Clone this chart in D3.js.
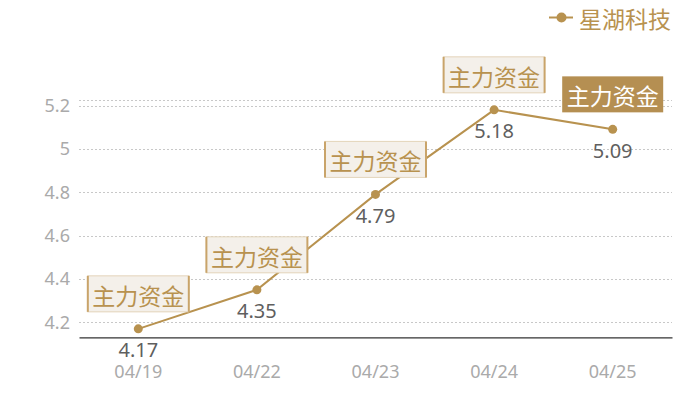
<!DOCTYPE html>
<html><head><meta charset="utf-8">
<script src="https://cdn.jsdelivr.net/npm/d3@7/dist/d3.min.js"></script>
<style>body{margin:0;background:#fff;} svg{display:block;}</style>
</head><body>
<svg id="c" width="700" height="400"></svg>
<script>
const categories = ["04/19","04/22","04/23","04/24","04/25"];
const values = [4.17, 4.35, 4.79, 5.18, 5.09];
const yTicks = [4.2, 4.4, 4.6, 4.8, 5, 5.2];
const seriesName = "星湖科技";
const markLabel = "主力资金";
const highlightIndex = 4;

const gold = "#b8924f";
const svg = d3.select("#c");
const m = {l:79, r:672, t:100.3, b:337.3};
const x = d3.scaleBand().domain(categories).range([m.l, m.r]);
const y = d3.scaleLinear().domain([4.131, 5.224]).range([m.b, m.t]);
const cx = d => x(d) + x.bandwidth()/2;
const font = "'Noto Sans','Noto Sans CJK SC',sans-serif";

// grid
const grid = svg.append("g");
[...yTicks, y.domain()[1]].forEach(v => {
  grid.append("line").attr("x1", m.l).attr("x2", m.r)
    .attr("y1", Math.round(y(v))+0.5).attr("y2", Math.round(y(v))+0.5)
    .attr("stroke", "#c8c8c8").attr("stroke-width", 1).attr("stroke-dasharray", "2,2");
});

// y axis labels
const yAxis = d3.axisLeft(y).tickValues(yTicks).tickSize(0).tickPadding(9).tickFormat(d3.format("~g"));
const ya = svg.append("g").attr("transform", `translate(${m.l},0)`).call(yAxis);
ya.select(".domain").remove();
ya.selectAll("text").attr("fill", "#aaaaaa").style("font-size", "18px").style("font-family", font);

// x axis
const xAxis = d3.axisBottom(x).tickSize(0).tickPadding(28);
const xa = svg.append("g").attr("transform", `translate(0,${m.b})`).call(xAxis);
xa.select(".domain").attr("stroke", "#333").attr("stroke-width", 1.2);
xa.selectAll("text").attr("fill", "#aaaaaa").style("font-size", "18px").style("font-family", font);

// line
const line = d3.line().x((d,i) => cx(categories[i])).y(d => y(d));
svg.append("path").datum(values).attr("d", line).attr("fill", "none")
  .attr("stroke", gold).attr("stroke-width", 2);
svg.selectAll("circle.pt").data(values).enter().append("circle")
  .attr("cx", (d,i) => cx(categories[i])).attr("cy", d => y(d)).attr("r", 4.5).attr("fill", gold);

// value labels
svg.selectAll("text.val").data(values).enter().append("text")
  .attr("x", (d,i) => cx(categories[i])).attr("y", d => y(d) + 21)
  .attr("text-anchor", "middle").attr("dominant-baseline", "central")
  .attr("fill", "#5f5f5f").style("font-size", "20px").style("font-family", font)
  .text(d => d);

// markers
const bw = 101, bh = 36;
values.forEach((v,i) => {
  const px = cx(categories[i]), py = y(v);
  const bx = px - bw/2, by = py - 17 - bh;
  const g = svg.append("g");
  const hl = i === highlightIndex;
  g.append("rect").attr("x", bx).attr("y", by).attr("width", bw).attr("height", bh)
    .attr("fill", hl ? "#b58f52" : "#f4f0ea")
    .attr("stroke", hl ? "none" : "#e3d4ba").attr("stroke-width", 1);
  if (!hl) {
    [bx, bx+bw].forEach(lx => g.append("line").attr("x1", lx).attr("x2", lx)
      .attr("y1", by).attr("y2", by+bh).attr("stroke", "#c9a46a").attr("stroke-width", 2));
  }
  g.append("text").attr("x", px).attr("y", by + bh/2 + 1)
    .attr("text-anchor", "middle").attr("dominant-baseline", "central")
    .attr("fill", hl ? "#ffffff" : gold).style("font-size", "23px")
    .style("font-family", "'Noto Sans CJK SC',sans-serif").text(markLabel);
});

// legend
const lg = svg.append("g");
lg.append("line").attr("x1", 549).attr("x2", 573).attr("y1", 17.5).attr("y2", 17.5)
  .attr("stroke", gold).attr("stroke-width", 2);
lg.append("circle").attr("cx", 561.5).attr("cy", 17.5).attr("r", 5).attr("fill", gold);
lg.append("text").attr("x", 579).attr("y", 18).attr("dominant-baseline", "central")
  .attr("fill", gold).style("font-size", "23px")
  .style("font-family", "'Noto Sans CJK SC',sans-serif").text(seriesName);
</script>
</body></html>
